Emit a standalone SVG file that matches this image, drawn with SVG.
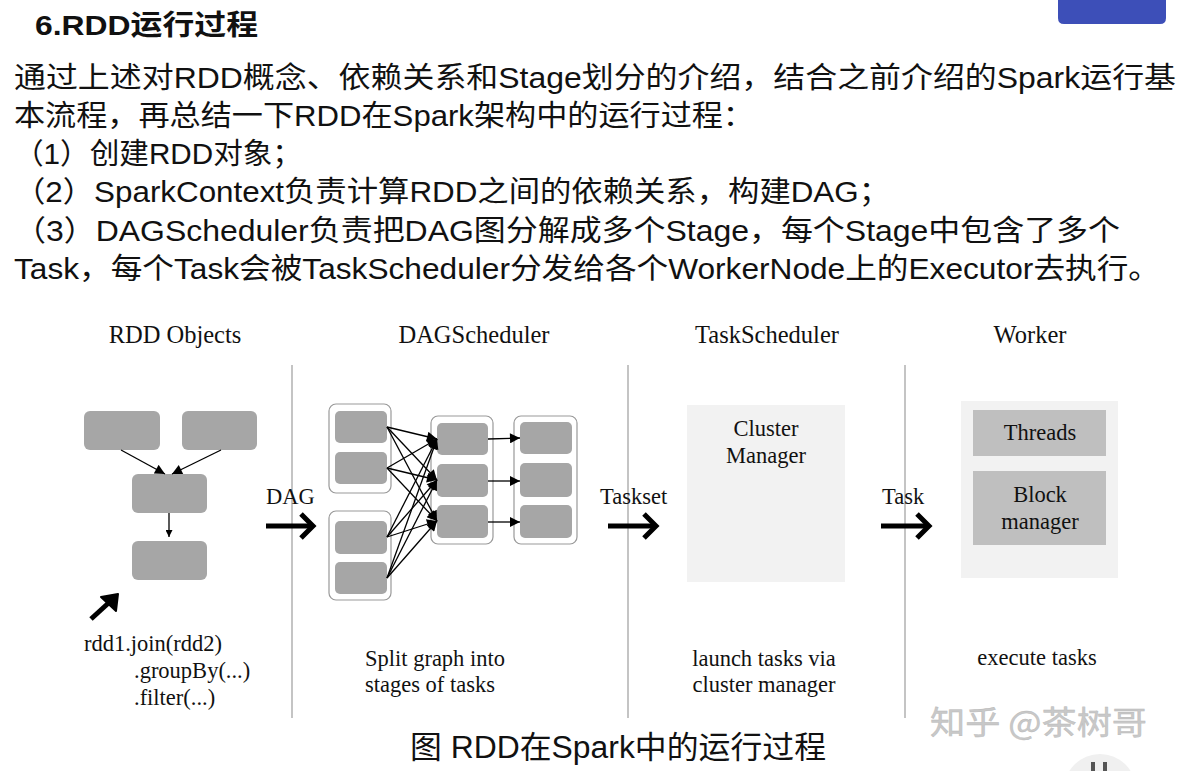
<svg xmlns="http://www.w3.org/2000/svg" width="1177" height="771" viewBox="0 0 1177 771">
<defs>
<style>
.para{font-family:"Liberation Sans","Noto Sans CJK SC",sans-serif;font-size:29px;fill:#111}
.ser{font-family:"Liberation Serif",serif;font-size:22.5px;fill:#111}
.hdr{font-family:"Liberation Serif",serif;font-size:24.5px;fill:#111}
.box{fill:#a6a6a6}
.cont{fill:#fff;stroke:#999;stroke-width:1.2}
.sep{stroke:#b0b0b0;stroke-width:1.5}
.edge{stroke:#000;stroke-width:1.3;fill:none}
.thick{stroke:#000;stroke-width:5;fill:none}
</style>
<marker id="ah" viewBox="0 0 10 10" refX="10" refY="5" markerWidth="7" markerHeight="7" markerUnits="userSpaceOnUse" orient="auto">
<path d="M0,0 L10,5 L0,10 z" fill="#000"/>
</marker>
<marker id="ah2" viewBox="0 0 10 10" refX="10" refY="5" markerWidth="12" markerHeight="10" markerUnits="userSpaceOnUse" orient="auto">
<path d="M0,0 L10,5 L0,10 z" fill="#000"/>
</marker>
</defs>
<rect width="1177" height="771" fill="#fff"/>

<g id="header">
<path d="M1058,0 H1166 V18 Q1166,24 1160,24 H1064 Q1058,24 1058,18 Z" fill="#3d4fb8"/>
<text x="35" y="35" font-family="Liberation Sans,Noto Sans CJK SC,sans-serif" font-size="28" font-weight="bold" fill="#111" textLength="223" lengthAdjust="spacingAndGlyphs">6.RDD运行过程</text>
</g>

<g id="paragraph">
<text class="para" x="14" y="88" textLength="1162" lengthAdjust="spacingAndGlyphs">通过上述对RDD概念、依赖关系和Stage划分的介绍，结合之前介绍的Spark运行基</text>
<text class="para" x="14" y="126" textLength="740" lengthAdjust="spacingAndGlyphs">本流程，再总结一下RDD在Spark架构中的运行过程：</text>
<text class="para" x="14" y="164" textLength="288" lengthAdjust="spacingAndGlyphs">（1）创建RDD对象；</text>
<text class="para" x="14" y="202" textLength="876" lengthAdjust="spacingAndGlyphs">（2）SparkContext负责计算RDD之间的依赖关系，构建DAG；</text>
<text class="para" x="14" y="241" textLength="1106" lengthAdjust="spacingAndGlyphs">（3）DAGScheduler负责把DAG图分解成多个Stage，每个Stage中包含了多个</text>
<text class="para" x="14" y="279" textLength="1146" lengthAdjust="spacingAndGlyphs">Task，每个Task会被TaskScheduler分发给各个WorkerNode上的Executor去执行。</text>
</g>

<g id="column-titles">
<text class="hdr" x="175" y="343" text-anchor="middle">RDD Objects</text>
<text class="hdr" x="474" y="343" text-anchor="middle">DAGScheduler</text>
<text class="hdr" x="767" y="343" text-anchor="middle">TaskScheduler</text>
<text class="hdr" x="1030" y="343" text-anchor="middle">Worker</text>
</g>

<g id="separators">
<line class="sep" x1="292" y1="365" x2="292" y2="718"/>
<line class="sep" x1="628" y1="365" x2="628" y2="718"/>
<line class="sep" x1="905" y1="365" x2="905" y2="718"/>
</g>

<g id="rdd-objects">
<rect class="box" x="84" y="411" width="76" height="39" rx="6"/>
<rect class="box" x="182" y="411" width="75" height="39" rx="6"/>
<rect class="box" x="132" y="474" width="75" height="39" rx="6"/>
<rect class="box" x="132" y="541" width="75" height="39" rx="6"/>
<text class="ser" x="84" y="651">rdd1.join(rdd2)</text>
<text class="ser" x="134" y="678">.groupBy(...)</text>
<text class="ser" x="134" y="705">.filter(...)</text>
</g>

<g id="dag-scheduler">
<rect class="cont" x="329" y="404" width="62" height="89" rx="7"/>
<rect class="box" x="335" y="411" width="52" height="32" rx="5"/>
<rect class="box" x="335" y="452" width="52" height="32" rx="5"/>
<rect class="cont" x="329" y="511" width="62" height="89" rx="7"/>
<rect class="box" x="335" y="521" width="52" height="33" rx="5"/>
<rect class="box" x="335" y="562" width="52" height="32" rx="5"/>
<rect class="cont" x="431" y="416" width="62" height="128" rx="7"/>
<rect class="box" x="437" y="423" width="51" height="32" rx="5"/>
<rect class="box" x="437" y="464" width="51" height="33" rx="5"/>
<rect class="box" x="437" y="505" width="51" height="33" rx="5"/>
<rect class="cont" x="514" y="416" width="63" height="128" rx="7"/>
<rect class="box" x="520" y="422" width="52" height="32" rx="5"/>
<rect class="box" x="520" y="463" width="52" height="34" rx="5"/>
<rect class="box" x="520" y="505" width="52" height="33" rx="5"/>
</g>

<g id="task-scheduler">
<rect x="687" y="405" width="158" height="177" fill="#f2f2f2"/>
<text class="ser" x="766" y="436" text-anchor="middle">Cluster</text>
<text class="ser" x="766" y="463" text-anchor="middle">Manager</text>
<text class="ser" x="764" y="666" text-anchor="middle">launch tasks via</text>
<text class="ser" x="764" y="692" text-anchor="middle">cluster manager</text>
</g>

<g id="worker">
<rect x="961" y="401" width="157" height="177" fill="#f2f2f2"/>
<rect x="973" y="410" width="133" height="46" fill="#bfbfbf"/>
<text class="ser" x="1040" y="440" text-anchor="middle">Threads</text>
<rect x="973" y="471" width="133" height="74" fill="#bfbfbf"/>
<text class="ser" x="1040" y="502" text-anchor="middle">Block</text>
<text class="ser" x="1040" y="529" text-anchor="middle">manager</text>
<text class="ser" x="1037" y="665" text-anchor="middle">execute tasks</text>
</g>

<g id="dag-notes">
<text class="ser" x="365" y="666">Split graph into</text>
<text class="ser" x="365" y="692">stages of tasks</text>
</g>

<g id="connectors">
<line class="edge" x1="121" y1="450" x2="165" y2="474" marker-end="url(#ah2)"/>
<line class="edge" x1="221" y1="450" x2="172" y2="474" marker-end="url(#ah2)"/>
<line class="edge" x1="169" y1="513" x2="169" y2="537" marker-end="url(#ah)"/>
<line class="thick" x1="91" y1="619" x2="114" y2="598"/>
<path d="M101,597 L118,594 L116,611 Z" fill="#000" stroke="#000" stroke-width="2" stroke-linejoin="round"/>

<g class="edge">
<line x1="387" y1="427" x2="437" y2="439" marker-end="url(#ah2)"/>
<line x1="387" y1="427" x2="437" y2="480" marker-end="url(#ah2)"/>
<line x1="387" y1="427" x2="437" y2="521" marker-end="url(#ah2)"/>
<line x1="387" y1="468" x2="437" y2="439" marker-end="url(#ah2)"/>
<line x1="387" y1="468" x2="437" y2="480" marker-end="url(#ah2)"/>
<line x1="387" y1="468" x2="437" y2="521" marker-end="url(#ah2)"/>
<line x1="387" y1="537" x2="437" y2="439" marker-end="url(#ah2)"/>
<line x1="387" y1="537" x2="437" y2="480" marker-end="url(#ah2)"/>
<line x1="387" y1="537" x2="437" y2="521" marker-end="url(#ah2)"/>
<line x1="387" y1="578" x2="437" y2="439" marker-end="url(#ah2)"/>
<line x1="387" y1="578" x2="437" y2="480" marker-end="url(#ah2)"/>
<line x1="387" y1="578" x2="437" y2="521" marker-end="url(#ah2)"/>
<line x1="488" y1="439" x2="520" y2="438" marker-end="url(#ah2)"/>
<line x1="488" y1="481" x2="520" y2="481" marker-end="url(#ah2)"/>
<line x1="488" y1="522" x2="520" y2="522" marker-end="url(#ah2)"/>
</g>

<text class="ser" x="266" y="504">DAG</text>
<line class="thick" x1="266" y1="526" x2="312" y2="526"/>
<path class="thick" d="M301,514 L313,526 L301,538" stroke-linejoin="miter"/>

<text class="ser" x="600" y="504">Taskset</text>
<line class="thick" x1="608" y1="526" x2="655" y2="526"/>
<path class="thick" d="M644,514 L656,526 L644,538"/>

<text class="ser" x="882" y="504">Task</text>
<line class="thick" x1="881" y1="526" x2="928" y2="526"/>
<path class="thick" d="M917,514 L929,526 L917,538"/>
</g>

<g id="caption">
<text x="618" y="758" text-anchor="middle" font-family="Liberation Sans,Noto Sans CJK SC,sans-serif" font-size="31" fill="#111" textLength="416" lengthAdjust="spacingAndGlyphs">图 RDD在Spark中的运行过程</text>
</g>

<g id="watermark">
<text x="930" y="734" font-family="Noto Sans CJK SC,sans-serif" font-size="32" fill="#c8c8c8" stroke="#b8b8b8" stroke-width="0.4" textLength="217" lengthAdjust="spacingAndGlyphs">知乎 @茶树哥</text>
<circle cx="1100" cy="790" r="36" fill="#f0f0f0"/>
<rect x="1091" y="762" width="4" height="9" fill="#555"/>
<rect x="1103" y="762" width="4" height="9" fill="#555"/>
</g>
</svg>
